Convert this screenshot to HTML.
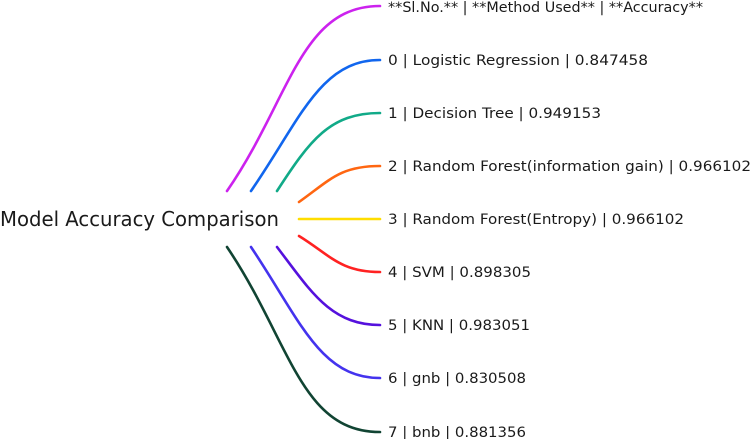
<!DOCTYPE html>
<html><head><style>
body{margin:0;width:752px;height:439px;background:#fff;overflow:hidden}
text{font-family:"DejaVu Sans","Liberation Sans",sans-serif;fill:#1a1a1a}
</style></head><body>
<svg width="752" height="439" viewBox="0 0 752 439">
<g fill="none" stroke-width="2.6" stroke-linecap="round">
<path d="M227,191 C290,100 300,6 380,6" stroke="#cc22ee"/>
<path d="M251,191 C300,120 320,60 380,60" stroke="#1166ee"/>
<path d="M277,191 C310,140 330,113 380,113" stroke="#11aa88"/>
<path d="M299,202 C330,180 340,166 380,166" stroke="#ff6611"/>
<path d="M299,219 L380,219" stroke="#ffdd00"/>
<path d="M299,236 C330,255 340,272 380,272" stroke="#ff2222"/>
<path d="M277,247 C310,290 330,325 380,325" stroke="#5511dd"/>
<path d="M251,247 C300,320 320,378 380,378" stroke="#4433ee"/>
<path d="M227,247 C290,340 300,432 380,432" stroke="#114433"/>
</g>
<text x="0" y="226" font-size="20" textLength="279" lengthAdjust="spacingAndGlyphs">Model Accuracy Comparison</text>
<g font-size="14">
<text x="388" y="12" textLength="315" lengthAdjust="spacingAndGlyphs">**Sl.No.** | **Method Used** | **Accuracy**</text>
<text x="388" y="65" textLength="260" lengthAdjust="spacingAndGlyphs">0 | Logistic Regression | 0.847458</text>
<text x="388" y="118" textLength="213" lengthAdjust="spacingAndGlyphs">1 | Decision Tree | 0.949153</text>
<text x="388" y="171" textLength="363" lengthAdjust="spacingAndGlyphs">2 | Random Forest(information gain) | 0.966102</text>
<text x="388" y="224" textLength="296" lengthAdjust="spacingAndGlyphs">3 | Random Forest(Entropy) | 0.966102</text>
<text x="388" y="277" textLength="143" lengthAdjust="spacingAndGlyphs">4 | SVM | 0.898305</text>
<text x="388" y="330" textLength="142" lengthAdjust="spacingAndGlyphs">5 | KNN | 0.983051</text>
<text x="388" y="383" textLength="138" lengthAdjust="spacingAndGlyphs">6 | gnb | 0.830508</text>
<text x="388" y="437" textLength="138" lengthAdjust="spacingAndGlyphs">7 | bnb | 0.881356</text>
</g>
</svg>
</body></html>
